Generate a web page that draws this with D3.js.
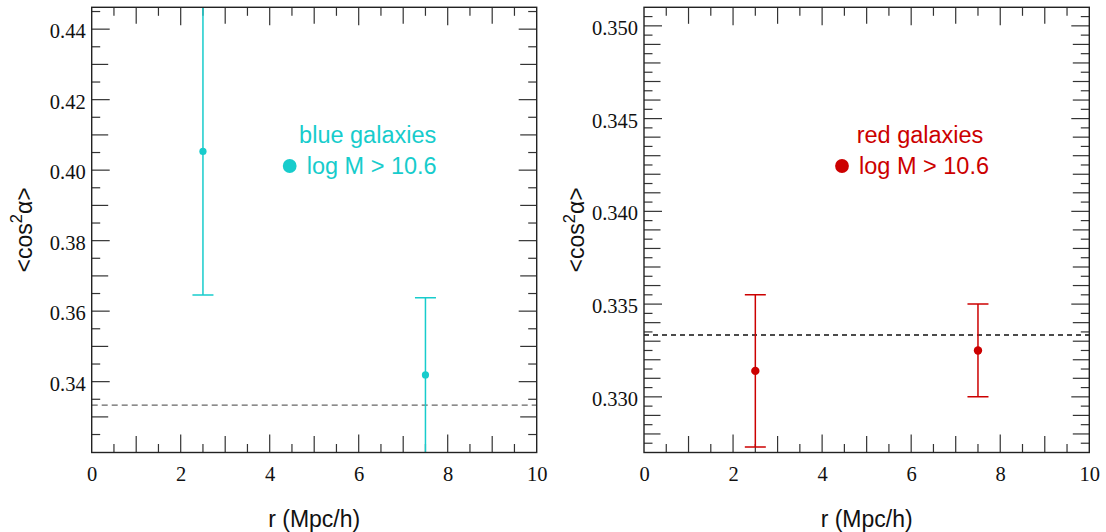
<!DOCTYPE html>
<html>
<head>
<meta charset="utf-8">
<script src="https://cdn.jsdelivr.net/npm/d3@7"></script>
<style>
  html, body { margin: 0; padding: 0; background: #fff; }
  svg { display: block; }
</style>
</head>
<body>
<svg id="chart" width="1106" height="532"></svg>
<script>
// ---------------- data ----------------
const rBins = [2.5, 7.5];

const blueMean = [0.4053, 0.3419];
const blueLo   = [0.3646, 0.3197];
const blueHi   = [0.4470, 0.3638];

const redMean = [0.3314, 0.3325];
const redLo   = [0.3273, 0.3300];
const redHi   = [0.3355, 0.3350];

const isotropic = 1 / 3;

const xDomain = [0, 10];
const xTickLabels = [0, 2, 4, 6, 8, 10];

const leftYDomain = [0.3199, 0.4462];
const leftYTickLabels = [0.34, 0.36, 0.38, 0.40, 0.42, 0.44];

const rightYDomain = [0.3270, 0.3510];
const rightYTickLabels = [0.330, 0.335, 0.340, 0.345, 0.350];

// ---------------- layout ----------------
const svg = d3.select("#chart");
const panelTop = 7.3, panelBottom = 452.5;

const panels = [
  {
    left: 91.7, right: 536.7, yDomain: leftYDomain, yLabels: leftYTickLabels,
    yMajor: 0.02, yMed: 0.01, yMinor: 0.005, yFmt: d3.format(".2f"),
    mean: blueMean, lo: blueLo, hi: blueHi,
    color: "#17cccc", dashColor: "#666", dash: "6,4", pointR: 3.6,
    title: "blue galaxies", label: "log M > 10.6"
  },
  {
    left: 644, right: 1089.3, yDomain: rightYDomain, yLabels: rightYTickLabels,
    yMajor: 0.005, yMed: 0.001, yMinor: 0.0005, yFmt: d3.format(".3f"),
    mean: redMean, lo: redLo, hi: redHi,
    color: "#cc0000", dashColor: "#111", dash: "5,4", pointR: 4.2,
    title: "red galaxies", label: "log M > 10.6"
  }
];

const tickColor = "#333";
const LONG = 18, MED = 16.5, SHORT = 8.5;

function isMult(v, step) {
  const q = v / step;
  return Math.abs(q - Math.round(q)) < 1e-6;
}

panels.forEach((p, pi) => {
  const x = d3.scaleLinear().domain(xDomain).range([p.left, p.right]);
  const y = d3.scaleLinear().domain(p.yDomain).range([panelBottom, panelTop]);
  const W = p.right - p.left, H = panelBottom - panelTop;

  const g = svg.append("g");

  // clip
  const clipId = "clip" + pi;
  svg.append("clipPath").attr("id", clipId)
    .append("rect").attr("x", p.left).attr("y", panelTop).attr("width", W).attr("height", H);

  // ---- x ticks ----
  const xAll = d3.range(0, 10.0001, 0.5).filter(v => v > 0 && v < 10);
  const xLen = v => isMult(v, 2) ? LONG : (isMult(v, 1) ? MED : SHORT);
  xAll.forEach(v => {
    const len = xLen(v);
    g.append("line").attr("x1", x(v)).attr("x2", x(v))
      .attr("y1", panelBottom).attr("y2", panelBottom - len)
      .attr("stroke", tickColor).attr("stroke-width", 1.2);
    g.append("line").attr("x1", x(v)).attr("x2", x(v))
      .attr("y1", panelTop).attr("y2", panelTop + len)
      .attr("stroke", tickColor).attr("stroke-width", 1.2);
  });

  // ---- y ticks ----
  const y0 = Math.ceil(p.yDomain[0] / p.yMinor - 1e-6) * p.yMinor;
  const yAll = d3.range(y0, p.yDomain[1] + 1e-9, p.yMinor)
    .filter(v => y(v) < panelBottom - 0.8 && y(v) > panelTop + 0.8);
  const yLen = v => isMult(v, p.yMajor) ? LONG : (isMult(v, p.yMed) ? MED : SHORT);
  yAll.forEach(v => {
    const len = yLen(v);
    g.append("line").attr("x1", p.left).attr("x2", p.left + len)
      .attr("y1", y(v)).attr("y2", y(v))
      .attr("stroke", tickColor).attr("stroke-width", 1.2);
    g.append("line").attr("x1", p.right).attr("x2", p.right - len)
      .attr("y1", y(v)).attr("y2", y(v))
      .attr("stroke", tickColor).attr("stroke-width", 1.2);
  });

  // ---- tick labels via d3 axes (no tick lines) ----
  const xAxis = d3.axisBottom(x).tickValues(xTickLabels).tickFormat(d3.format("d"))
    .tickSize(0).tickPadding(0);
  const gx = g.append("g").attr("transform", `translate(0,${panelBottom})`).call(xAxis);
  gx.select(".domain").remove();
  gx.selectAll("text")
    .attr("dy", null).attr("y", 28)
    .attr("font-family", "'Liberation Serif', 'Times New Roman', serif")
    .attr("font-size", 20.5).attr("fill", "#111");

  const yAxis = d3.axisLeft(y).tickValues(p.yLabels).tickFormat(p.yFmt)
    .tickSize(0).tickPadding(6);
  const gy = g.append("g").attr("transform", `translate(${p.left},0)`).call(yAxis);
  gy.select(".domain").remove();
  gy.selectAll("text")
    .attr("dy", null).attr("y", 8.5)
    .attr("font-family", "'Liberation Serif', 'Times New Roman', serif")
    .attr("font-size", 20.5).attr("fill", "#111");

  // ---- dashed isotropic line ----
  g.append("line")
    .attr("x1", p.left).attr("x2", p.right)
    .attr("y1", y(isotropic)).attr("y2", y(isotropic))
    .attr("stroke", p.dashColor).attr("stroke-width", 1.3)
    .attr("stroke-dasharray", p.dash);

  // ---- error bars & points ----
  const data = rBins.map((r, i) => ({ r, m: p.mean[i], lo: p.lo[i], hi: p.hi[i] }));
  const eg = g.append("g").attr("clip-path", `url(#${clipId})`);
  const capHalf = 10.5;
  data.forEach(d => {
    eg.append("line")
      .attr("x1", x(d.r)).attr("x2", x(d.r))
      .attr("y1", y(d.lo)).attr("y2", y(d.hi))
      .attr("stroke", p.color).attr("stroke-width", 1.5);
    [d.lo, d.hi].forEach(v => {
      eg.append("line")
        .attr("x1", x(d.r) - capHalf).attr("x2", x(d.r) + capHalf)
        .attr("y1", y(v)).attr("y2", y(v))
        .attr("stroke", p.color).attr("stroke-width", 1.5);
    });
    eg.append("circle")
      .attr("cx", x(d.r)).attr("cy", y(d.m)).attr("r", p.pointR)
      .attr("fill", p.color);
  });

  // ---- frame ----
  g.append("rect")
    .attr("x", p.left).attr("y", panelTop).attr("width", W).attr("height", H)
    .attr("fill", "none").attr("stroke", "#222").attr("stroke-width", 1.4);

  // ---- legend ----
  const sans = "'Liberation Sans', Arial, Helvetica, sans-serif";
  g.append("text")
    .attr("x", p.left + 276).attr("y", 143)
    .attr("text-anchor", "middle")
    .attr("font-family", sans).attr("font-size", 23.5)
    .attr("fill", p.color).text(p.title);
  g.append("circle")
    .attr("cx", p.left + 198).attr("cy", 166).attr("r", 6.9)
    .attr("fill", p.color);
  g.append("text")
    .attr("x", p.left + 215).attr("y", 174)
    .attr("font-family", sans).attr("font-size", 23.5)
    .attr("fill", p.color).text(p.label);

  // ---- axis titles ----
  g.append("text")
    .attr("x", (p.left + p.right) / 2).attr("y", 527)
    .attr("text-anchor", "middle")
    .attr("font-family", sans).attr("font-size", 23)
    .attr("fill", "#111").text("r (Mpc/h)");

  const yt = g.append("text")
    .attr("transform", `translate(${p.left - 60},${(panelTop + panelBottom) / 2}) rotate(-90)`)
    .attr("text-anchor", "middle")
    .attr("font-family", sans).attr("font-size", 23)
    .attr("fill", "#111");
  yt.append("tspan").text("<cos");
  yt.append("tspan").attr("dy", -9.5).attr("font-size", 16.5).text("2");
  yt.append("tspan").attr("dy", 9.5).text("α>");
});
</script>
</body>
</html>
